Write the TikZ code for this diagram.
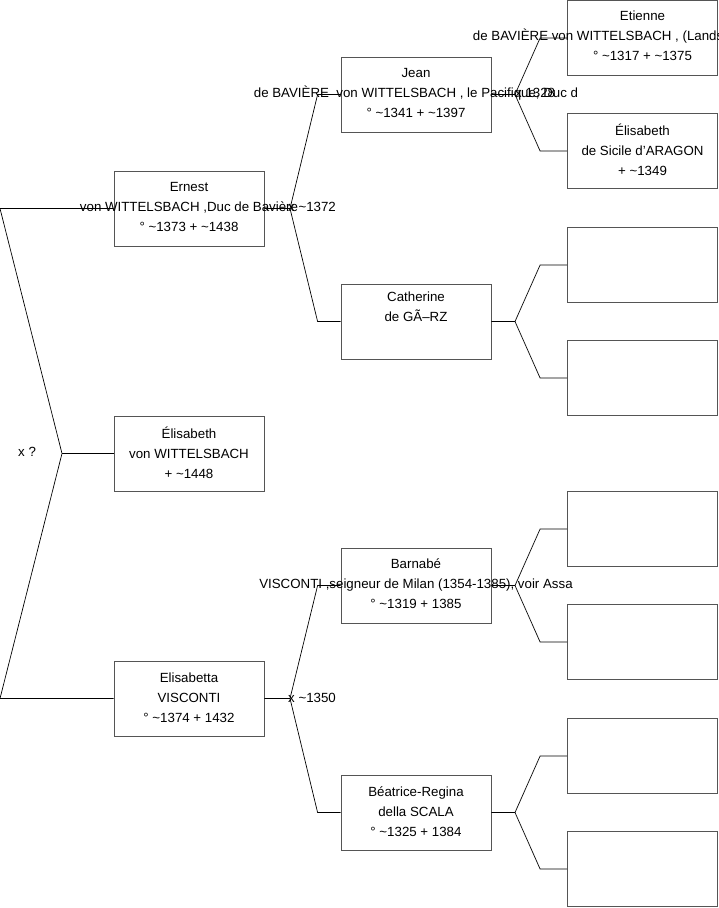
\documentclass[tikz,border=0pt]{standalone}
\usepackage{fontspec}
\setmainfont{Liberation Sans}
\begin{document}
\begin{tikzpicture}[x=1pt,y=-1pt,
  box/.style={draw=boxgray, line width=0.8pt, minimum width=150pt, minimum height=75pt, inner sep=0pt},
  txt/.style={align=center, font=\fontsize{13.3}{20}\selectfont, inner sep=0pt},
  lnk/.style={draw=black, line width=0.7pt},
  mlabel/.style={font=\fontsize{13.3}{15}\selectfont, anchor=west, inner sep=0pt}]
\definecolor{boxgray}{HTML}{555555}
\useasboundingbox[fill=white] (0,0) rectangle (719,908);
% generation 1
\node[box] (ernest) at (189,208.5) {};
\node[box] (elisabeth) at (189,453.5) {};
\node[box] (elisabetta) at (189,698.5) {};
% generation 2
\node[box] (jean) at (416,94.5) {};
\node[box] (catherine) at (416,321.5) {};
\node[box] (barnabe) at (416,585.5) {};
\node[box] (beatrice) at (416,812.5) {};
% generation 3
\node[box] (etienne) at (642.5,38) {};
\node[box] (elsicile) at (642.5,151) {};
\node[box] (e3) at (642.5,265) {};
\node[box] (e4) at (642.5,378) {};
\node[box] (e5) at (642.5,529) {};
\node[box] (e6) at (642.5,642) {};
\node[box] (e7) at (642.5,756) {};
\node[box] (e8) at (642.5,869) {};
% connectors root
\coordinate (rt) at (0,208.5);
\coordinate (rb) at (0,698.5);
\coordinate (r0) at (62,453.5);
\draw[lnk] (ernest.west) -- (rt) -- (r0) -- (rb) -- (elisabetta.west);
\draw[lnk] (r0) -- (elisabeth.west);
% connectors gen 1 -> 2
\coordinate (f1) at (290,208.5);
\draw[lnk] (ernest.east) -- (f1) -- ([xshift=-23pt]jean.west) -- (jean.west);
\draw[lnk] (f1) -- ([xshift=-23pt]catherine.west) -- (catherine.west);
\coordinate (f2) at (290,698.5);
\draw[lnk] (elisabetta.east) -- (f2) -- ([xshift=-23pt]barnabe.west) -- (barnabe.west);
\draw[lnk] (f2) -- ([xshift=-23pt]beatrice.west) -- (beatrice.west);
% connectors gen 2 -> 3
\coordinate (g1) at (515,94.5);
\draw[lnk] (jean.east) -- (g1) -- ([xshift=-27pt]etienne.west) -- (etienne.west);
\draw[lnk] (g1) -- ([xshift=-27pt]elsicile.west) -- (elsicile.west);
\coordinate (g2) at (515,321.5);
\draw[lnk] (catherine.east) -- (g2) -- ([xshift=-27pt]e3.west) -- (e3.west);
\draw[lnk] (g2) -- ([xshift=-27pt]e4.west) -- (e4.west);
\coordinate (g3) at (515,585.5);
\draw[lnk] (barnabe.east) -- (g3) -- ([xshift=-27pt]e5.west) -- (e5.west);
\draw[lnk] (g3) -- ([xshift=-27pt]e6.west) -- (e6.west);
\coordinate (g4) at (515,812.5);
\draw[lnk] (beatrice.east) -- (g4) -- ([xshift=-27pt]e7.west) -- (e7.west);
\draw[lnk] (g4) -- ([xshift=-27pt]e8.west) -- (e8.west);
% texts
\node[txt] (t-ernest) at ([yshift=2pt]ernest.center) {Ernest\\von WITTELSBACH ,Duc de Bavière\\° \textasciitilde1373 + \textasciitilde1438};
\node[txt] (t-elisabeth) at ([yshift=1pt]elisabeth.center) {Élisabeth\\von WITTELSBACH\\+ \textasciitilde1448};
\node[txt] (t-elisabetta) at ([yshift=1pt]elisabetta.center) {Elisabetta\\VISCONTI\\° \textasciitilde1374 + 1432};
\node[txt] (t-jean) at ([yshift=2pt]jean.center) {Jean\\de BAVIÈRE\ \ von WITTELSBACH , le Pacifique, Duc d\\° \textasciitilde1341 + \textasciitilde1397};
\node[txt] (t-catherine) at ([yshift=2pt]catherine.center) {Catherine\\de GÃ–RZ\\\strut};
\node[txt] (t-barnabe) at ([yshift=2pt]barnabe.center) {Barnabé\\VISCONTI ,seigneur de Milan (1354-1385), voir Assa\\° \textasciitilde1319 + 1385};
\node[txt] (t-beatrice) at ([yshift=1pt]beatrice.center) {Béatrice-Regina\\della SCALA\\° \textasciitilde1325 + 1384};
\node[txt] (t-etienne) at ([yshift=2pt]etienne.center) {Etienne\\de BAVIÈRE von WITTELSBACH , (Landshut) Duc de Ba\\° \textasciitilde1317 + \textasciitilde1375};
\node[txt] (t-elsicile) at ([yshift=1pt]elsicile.center) {Élisabeth\\de Sicile d'ARAGON\\+ \textasciitilde1349};
% marriage labels
\node[mlabel] (m0) at (18,452) {x ?};
\node[mlabel] (m1) at ([xshift=-2pt,yshift=2pt]f1) {x \textasciitilde1372};
\node[mlabel] (m2) at ([xshift=-2pt,yshift=1pt]f2) {x \textasciitilde1350};
\node[mlabel] (m3) at ([xshift=0pt,yshift=2pt]g1) {x 1328};
\end{tikzpicture}
\end{document}
